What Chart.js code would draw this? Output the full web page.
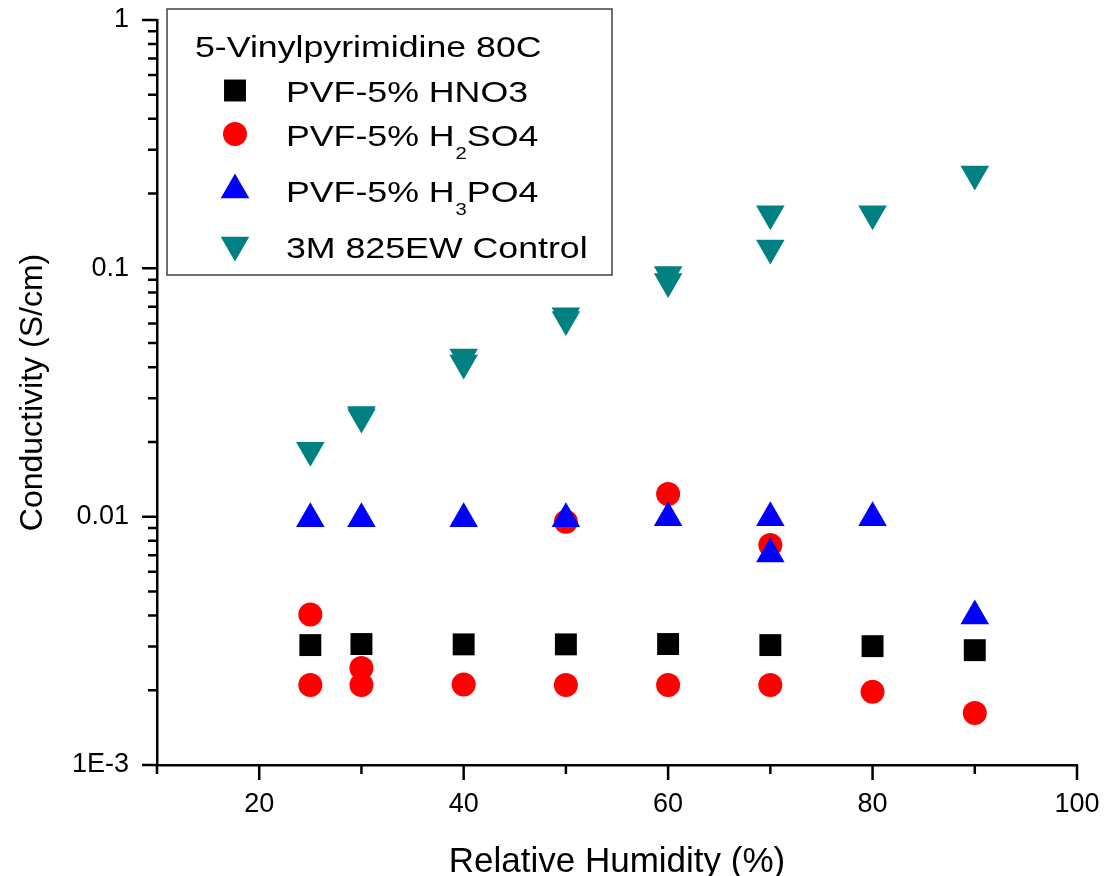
<!DOCTYPE html>
<html>
<head>
<meta charset="utf-8">
<title>Conductivity vs Relative Humidity</title>
<script src="https://cdn.jsdelivr.net/npm/chart.js@4.4.1/dist/chart.umd.min.js"></script>
<style>
  html, body { margin: 0; padding: 0; background: #fff; }
  #wrap { position: relative; width: 1106px; height: 876px; }
</style>
</head>
<body>
<div id="wrap"><canvas id="grafico"></canvas></div>
<script>
// Valores (UR em %, condutividade em S/cm)
const rhHNO3 = [25, 30, 40, 50, 60, 70, 80, 90];
const condHNO3 = [0.00304, 0.00307, 0.00306, 0.00306, 0.00307, 0.00304, 0.00301, 0.00290];

const rhH2SO4 = [25, 25, 30, 30, 40, 50, 50, 60, 60, 70, 70, 80, 90];
const condH2SO4 = [0.00404, 0.00210, 0.00246, 0.00210, 0.00211, 0.00954, 0.00210, 0.01233, 0.00210, 0.00769, 0.00210, 0.00197, 0.00162];

const rhH3PO4 = [25, 30, 40, 50, 60, 70, 70, 80, 90];
const condH3PO4 = [0.0098, 0.0098, 0.0098, 0.0098, 0.0099, 0.0099, 0.00707, 0.0099, 0.00398];

const rhControl = [25, 30, 30, 40, 40, 50, 50, 60, 60, 70, 70, 80, 90];
const condControl = [0.0185, 0.0252, 0.0258, 0.0416, 0.0439, 0.0622, 0.0645, 0.0885, 0.0944, 0.166, 0.1207, 0.166, 0.24];

// Eixos
const xMajor = [20, 40, 60, 80, 100];
const xMinor = [10, 30, 50, 70, 90];
const yMajor = [1, 0.1, 0.01, 0.001];
const yTickLabels = ["1", "0.1", "0.01", "1E-3"];

// Legenda (partes: texto, subscrito, texto)
const legendTitle = "5-Vinylpyrimidine 80C";
const legendParts = [
  ["PVF-5% HNO3"],
  ["PVF-5% H", "2", "SO4"],
  ["PVF-5% H", "3", "PO4"],
  ["3M 825EW Control"]
];

const FONT = '"Liberation Sans", Arial, Helvetica, sans-serif';

function pontos(xs, ys) {
  return xs.map((x, i) => ({ x: x, y: ys[i] }));
}

// Marcas dos eixos para fora (maiores e menores)
const marcasPlugin = {
  id: 'marcasFora',
  afterDraw(chart) {
    const ctx = chart.ctx;
    const sx = chart.scales.x, sy = chart.scales.y;
    const x0 = sy.right, y0 = sx.top;
    ctx.save();
    ctx.strokeStyle = '#000';
    ctx.lineWidth = 2.5;
    ctx.beginPath();
    yMajor.forEach(v => {
      const p = sy.getPixelForValue(v);
      ctx.moveTo(x0 - 15, p); ctx.lineTo(x0, p);
    });
    yMajor.slice(1).forEach(d => {
      for (let k = 2; k <= 9; k++) {
        const p = sy.getPixelForValue(k * d);
        ctx.moveTo(x0 - 9, p); ctx.lineTo(x0, p);
      }
    });
    xMajor.forEach(v => {
      const p = sx.getPixelForValue(v);
      ctx.moveTo(p, y0); ctx.lineTo(p, y0 + 15);
    });
    xMinor.forEach(v => {
      const p = sx.getPixelForValue(v);
      ctx.moveTo(p, y0); ctx.lineTo(p, y0 + 9);
    });
    ctx.stroke();
    ctx.restore();
  }
};

// Texto um pouco esticado, como no original
function texto(ctx, t, x, y, size) {
  const esc = 1.19;
  ctx.save();
  ctx.font = size + 'px ' + FONT;
  ctx.translate(x, y);
  ctx.scale(esc, 1);
  ctx.fillText(t, 0, 0);
  const w = ctx.measureText(t).width * esc;
  ctx.restore();
  return w;
}

// Legenda em caixa com subscritos
const legendaPlugin = {
  id: 'legendaCaixa',
  afterDraw(chart) {
    const ctx = chart.ctx;
    const linhas = [
      { base: 101.5, marca: 90.5 },
      { base: 145.5, marca: 134 },
      { base: 202, marca: 190 },
      { base: 258, marca: 245 }
    ];
    ctx.save();
    ctx.fillStyle = '#fff';
    ctx.fillRect(167, 9, 445, 266);
    ctx.strokeStyle = '#404040';
    ctx.lineWidth = 1.5;
    ctx.strokeRect(167, 9, 445, 266);
    ctx.fillStyle = '#000';
    ctx.textBaseline = 'alphabetic';
    texto(ctx, legendTitle, 195, 57, 30);

    chart.data.datasets.forEach((ds, i) => {
      const l = linhas[i];
      ctx.fillStyle = ds.backgroundColor;
      Chart.helpers.drawPoint(ctx, {
        pointStyle: ds.pointStyle,
        radius: ds.pointRadius,
        rotation: ds.pointRotation || 0,
        borderWidth: 0
      }, 235, l.marca);
      ctx.fillStyle = '#000';
      const partes = legendParts[i];
      let x = 286;
      x += texto(ctx, partes[0], x, l.base, 30);
      if (partes.length > 1) {
        x += texto(ctx, partes[1], x + 1, l.base + 13, 17) + 1;
        texto(ctx, partes[2], x, l.base, 30);
      }
    });
    ctx.restore();
  }
};

new Chart(document.getElementById('grafico'), {
  type: 'scatter',
  data: {
    datasets: [
      {
        label: 'PVF-5% HNO3',
        data: pontos(rhHNO3, condHNO3),
        pointStyle: 'rect',
        pointRadius: 15.5,
        backgroundColor: '#000000',
        borderWidth: 0,
        order: 3
      },
      {
        label: 'PVF-5% H2SO4',
        data: pontos(rhH2SO4, condH2SO4),
        pointStyle: 'circle',
        pointRadius: 12,
        backgroundColor: '#ff0000',
        borderWidth: 0,
        order: 2
      },
      {
        label: 'PVF-5% H3PO4',
        data: pontos(rhH3PO4, condH3PO4),
        pointStyle: 'triangle',
        pointRadius: 16.5,
        backgroundColor: '#0000ff',
        borderWidth: 0,
        order: 1
      },
      {
        label: '3M 825EW Control',
        data: pontos(rhControl, condControl),
        pointStyle: 'triangle',
        pointRotation: 180,
        pointRadius: 16.5,
        backgroundColor: '#008080',
        borderWidth: 0,
        order: 0
      }
    ]
  },
  options: {
    responsive: true,
    maintainAspectRatio: false,
    animation: false,
    layout: { padding: { top: 20, right: 29, bottom: 0, left: 0 } },
    plugins: {
      legend: { display: false },
      tooltip: { enabled: false }
    },
    scales: {
      x: {
        type: 'linear',
        min: 10,
        max: 100,
        afterBuildTicks: s => { s.ticks = xMajor.map(v => ({ value: v })); },
        afterFit: s => { s.height = 111; },
        // marcas desenhadas pelo plugin; tickLength só afasta os rótulos
        grid: { display: false, drawTicks: true, tickLength: 23 },
        border: { display: true, color: '#000', width: 2.5 },
        ticks: {
          color: '#000',
          padding: 0,
          maxRotation: 0,
          font: { family: FONT, size: 27 }
        },
        title: {
          display: true,
          text: 'Relative Humidity (%)',
          color: '#000',
          padding: { top: 0, bottom: -4 },
          font: { family: FONT, size: 35, lineHeight: 1 }
        }
      },
      y: {
        type: 'logarithmic',
        min: 0.001,
        max: 1,
        afterBuildTicks: s => { s.ticks = yMajor.map(v => ({ value: v })); },
        afterFit: s => { s.width = 157; },
        grid: { display: false, drawTicks: true, tickLength: 28 },
        border: { display: true, color: '#000', width: 2.5 },
        ticks: {
          color: '#000',
          padding: 0,
          font: { family: FONT, size: 27 },
          callback: (v, i) => yTickLabels[i]
        },
        title: {
          display: true,
          text: 'Conductivity (S/cm)',
          color: '#000',
          padding: { top: 17, bottom: 0 },
          font: { family: FONT, size: 32, lineHeight: 1 }
        }
      }
    }
  },
  plugins: [marcasPlugin, legendaPlugin]
});
</script>
</body>
</html>
